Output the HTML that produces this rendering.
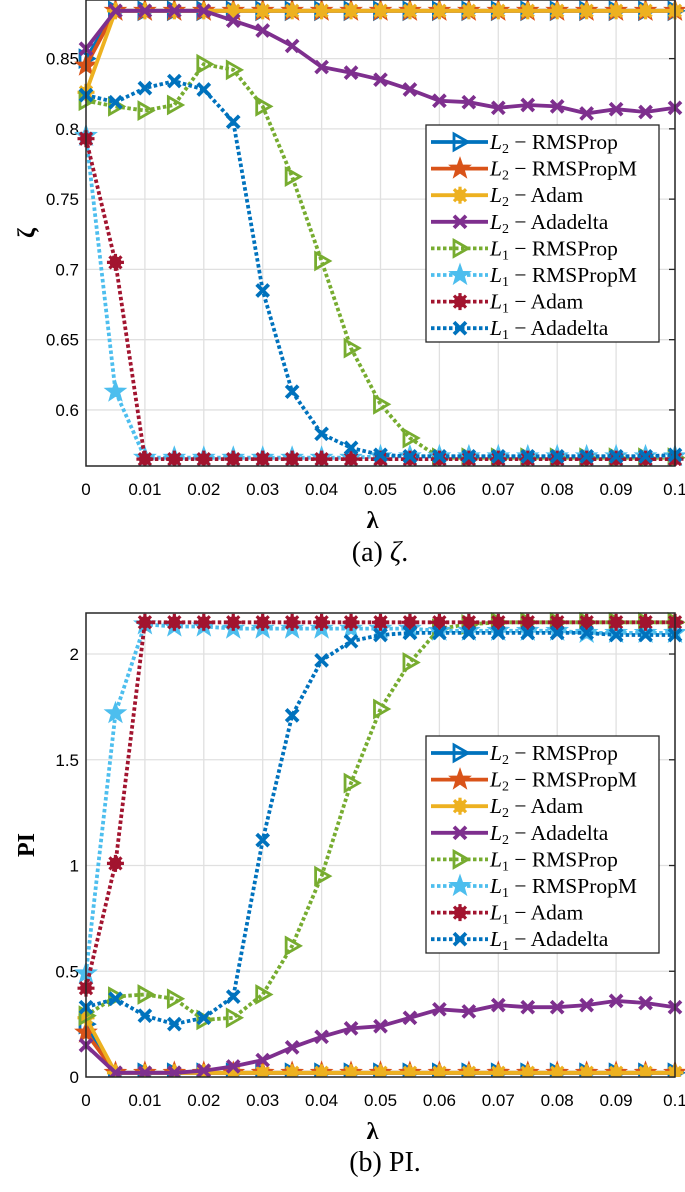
<!DOCTYPE html>
<html><head><meta charset="utf-8"><style>
body{margin:0;background:#fff;width:685px;height:1192px;overflow:hidden}
svg{display:block}
text{font-family:"Liberation Sans",sans-serif}
.serif{font-family:"Liberation Serif",serif}
</style></head><body>
<svg id="chart" width="685" height="1192" viewBox="0 0 685 1192"></svg>
<script>
const xVals=[0,0.005,0.01,0.015,0.02,0.025,0.03,0.035,0.04,0.045,0.05,0.055,0.06,0.065,0.07,0.075,0.08,0.085,0.09,0.095,0.1];
const xTicks=[0,0.01,0.02,0.03,0.04,0.05,0.06,0.07,0.08,0.09,0.1];
const xTickLabels=["0","0.01","0.02","0.03","0.04","0.05","0.06","0.07","0.08","0.09","0.1"];
const seriesNames=["L2RMSProp","L2RMSPropM","L2Adam","L2Adadelta","L1RMSProp","L1RMSPropM","L1Adam","L1Adadelta"];
// zeta
const zL2RMSProp=[0.850,0.884,0.884,0.884,0.884,0.884,0.884,0.884,0.884,0.884,0.884,0.884,0.884,0.884,0.884,0.884,0.884,0.884,0.884,0.884,0.884];
const zL2RMSPropM=[0.845,0.884,0.884,0.884,0.884,0.884,0.884,0.884,0.884,0.884,0.884,0.884,0.884,0.884,0.884,0.884,0.884,0.884,0.884,0.884,0.884];
const zL2Adam=[0.826,0.884,0.884,0.884,0.884,0.884,0.884,0.884,0.884,0.884,0.884,0.884,0.884,0.884,0.884,0.884,0.884,0.884,0.884,0.884,0.884];
const zL2Adadelta=[0.857,0.884,0.884,0.884,0.884,0.877,0.870,0.859,0.844,0.840,0.835,0.828,0.820,0.819,0.815,0.817,0.816,0.811,0.814,0.812,0.815];
const zL1RMSProp=[0.820,0.816,0.813,0.817,0.846,0.842,0.816,0.766,0.706,0.644,0.604,0.580,0.566,0.566,0.566,0.566,0.566,0.566,0.566,0.566,0.566];
const zL1RMSPropM=[0.795,0.613,0.566,0.566,0.566,0.566,0.566,0.566,0.566,0.566,0.567,0.567,0.567,0.567,0.567,0.567,0.567,0.567,0.567,0.567,0.567];
const zL1Adam=[0.793,0.705,0.565,0.565,0.565,0.565,0.565,0.565,0.565,0.565,0.565,0.565,0.565,0.565,0.565,0.565,0.565,0.565,0.565,0.565,0.565];
const zL1Adadelta=[0.824,0.819,0.829,0.834,0.828,0.805,0.685,0.613,0.583,0.573,0.568,0.567,0.567,0.567,0.567,0.567,0.567,0.567,0.567,0.567,0.568];
const zTicks=[0.6,0.65,0.7,0.75,0.8,0.85];
const zTickLabels=["0.6","0.65","0.7","0.75","0.8","0.85"];
// PI
const pL2RMSProp=[0.25,0.02,0.02,0.02,0.02,0.02,0.02,0.02,0.02,0.02,0.02,0.02,0.02,0.02,0.02,0.02,0.02,0.02,0.02,0.02,0.02];
const pL2RMSPropM=[0.21,0.02,0.02,0.02,0.02,0.02,0.02,0.02,0.02,0.02,0.02,0.02,0.02,0.02,0.02,0.02,0.02,0.02,0.02,0.02,0.02];
const pL2Adam=[0.28,0.02,0.02,0.02,0.02,0.02,0.02,0.02,0.02,0.02,0.02,0.02,0.02,0.02,0.02,0.02,0.02,0.02,0.02,0.02,0.02];
const pL2Adadelta=[0.15,0.02,0.02,0.02,0.03,0.05,0.08,0.14,0.19,0.23,0.24,0.28,0.32,0.31,0.34,0.33,0.33,0.34,0.36,0.35,0.33];
const pL1RMSProp=[0.29,0.38,0.39,0.37,0.27,0.28,0.39,0.62,0.95,1.39,1.74,1.96,2.12,2.14,2.15,2.15,2.15,2.15,2.15,2.15,2.15];
const pL1RMSPropM=[0.49,1.72,2.14,2.13,2.13,2.12,2.12,2.12,2.12,2.12,2.12,2.12,2.11,2.11,2.11,2.11,2.11,2.10,2.10,2.10,2.10];
const pL1Adam=[0.42,1.01,2.15,2.15,2.15,2.15,2.15,2.15,2.15,2.15,2.15,2.15,2.15,2.15,2.15,2.15,2.15,2.15,2.15,2.15,2.15];
const pL1Adadelta=[0.33,0.37,0.29,0.25,0.28,0.38,1.12,1.71,1.97,2.06,2.09,2.10,2.10,2.10,2.10,2.10,2.10,2.10,2.09,2.09,2.09];
const pTicks=[0,0.5,1,1.5,2];
const pTickLabels=["0","0.5","1","1.5","2"];

const colors=["#0072BD","#D95319","#EDB120","#7E2F8E","#77AC30","#4DBEEE","#A2142F","#0072BD"];
const markers=["tri","star","ast","x","tri","star","ast","x"];
const dotted=[false,false,false,false,true,true,true,true];
const legendMain=["RMSProp","RMSPropM","Adam","Adadelta","RMSProp","RMSPropM","Adam","Adadelta"];
const legendSub=["2","2","2","2","1","1","1","1"];

const NS="http://www.w3.org/2000/svg";
const svg=document.getElementById('chart');
function mk(tag,attrs,parent){const e=document.createElementNS(NS,tag);for(const k in attrs)e.setAttribute(k,attrs[k]);(parent||svg).appendChild(e);return e;}

function marker(g,type,x,y,c){
  let e;
  if(type==="tri"){e=mk('path',{d:`M${x-6},${y-8}L${x+8},${y}L${x-6},${y+8}Z`,fill:'none',stroke:c,'stroke-width':2.8},g);}
  else if(type==="star"){let d="";for(let i=0;i<10;i++){const r=i%2?4.5:11;const a=-Math.PI/2+i*Math.PI/5;d+=(i?"L":"M")+(x+r*Math.cos(a)).toFixed(1)+","+(y+r*Math.sin(a)).toFixed(1);}e=mk('path',{d:d+"Z",fill:c,stroke:c,'stroke-width':1},g);}
  else if(type==="ast"){e=mk('g',{},g);mk('circle',{cx:x,cy:y,r:6,fill:c},e);for(let i=0;i<4;i++){const a=i*Math.PI/4;mk('line',{x1:x-8.5*Math.cos(a),y1:y-8.5*Math.sin(a),x2:x+8.5*Math.cos(a),y2:y+8.5*Math.sin(a),stroke:c,'stroke-width':3.2},e);}}
  else {e=mk('path',{d:`M${x-6},${y-6}L${x+6},${y+6}M${x-6},${y+6}L${x+6},${y-6}`,stroke:c,'stroke-width':3.8,fill:'none'},g);}
  
  
}

function plot(cfg){
  const {x0,x1,y0,y1,ymin,ymax,series,yTicks,yLabels,ylab,name,caption,capX,capY,legendY}=cfg;
  const sx=v=>x0+(v/0.1)*(x1-x0);
  const sy=v=>y1-(v-ymin)/(ymax-ymin)*(y1-y0);
  const g=mk('g',{});
  
  
  const clipId=name+'-clip';
  const cp=mk('clipPath',{id:clipId},g);mk('rect',{x:x0-12,y:y0-12,width:x1-x0+24,height:y1-y0+12},cp);
  xTicks.forEach((t,i)=>{mk('line',{x1:sx(t),x2:sx(t),y1:y0,y2:y1,stroke:'#e0e0e0','stroke-width':1.3},g);
    const tl=mk('text',{x:sx(t),y:y1+29,'font-size':17,'text-anchor':'middle',fill:'#000'},g);tl.textContent=xTickLabels[i];
    });
  yTicks.forEach((t,i)=>{mk('line',{x1:x0,x2:x1,y1:sy(t),y2:sy(t),stroke:'#e0e0e0','stroke-width':1.3},g);
    mk('line',{x1:x1-6,x2:x1,y1:sy(t),y2:sy(t),stroke:'#262626','stroke-width':1.3},g);
    const tl=mk('text',{x:x0-7,y:sy(t)+6,'font-size':17,'text-anchor':'end',fill:'#000'},g);tl.textContent=yLabels[i];
    });
  const sg=mk('g',{'clip-path':`url(#${clipId})`},g);
  series.forEach((vals,si)=>{
    const c=colors[si];
    const pts=vals.map((v,i)=>sx(xVals[i]).toFixed(1)+","+sy(v).toFixed(1)).join(" ");
    const pl=mk('polyline',{points:pts,fill:'none',stroke:c,'stroke-width':3.8,'stroke-dasharray':dotted[si]?'3.5,2.5':'none'},sg);
    
    
    vals.forEach((v,i)=>marker(sg,markers[si],sx(xVals[i]),sy(v),c));
  });
  const bx=mk('rect',{x:x0,y:y0,width:x1-x0,height:y1-y0,fill:'none',stroke:'#262626','stroke-width':1.5},g);
  
  const lx=426,lw=233,lh=217;
  const lg=mk('g',{},g);
  
  mk('rect',{x:lx,y:legendY,width:lw,height:lh,fill:'#fff',stroke:'#262626','stroke-width':1.3},lg);
  for(let i=0;i<8;i++){
    const ey=legendY+17+i*26.6;
    const eg=mk('g',{},lg);
    
    
    mk('line',{x1:lx+5,x2:lx+62,y1:ey,y2:ey,stroke:colors[i],'stroke-width':3.8,'stroke-dasharray':dotted[i]?'3.5,2.5':'none'},eg);
    marker(eg,markers[i],lx+34,ey,colors[i]);
    const t=mk('text',{x:lx+64,y:ey+7,'font-size':21.5,class:'serif',fill:'#000'},eg);
    t.innerHTML=`<tspan font-style="italic">L</tspan><tspan font-size="14" dy="4">${legendSub[i]}</tspan><tspan dy="-4"> − ${legendMain[i]}</tspan>`;
  }
  const xl=mk('text',{x:(x0+x1)/2-8,y:y1+62,'font-size':24,'font-weight':'bold',class:'serif','text-anchor':'middle'},g);
  xl.textContent='λ';
  const yl=mk('text',{x:0,y:0,'font-size':24,'font-weight':'bold',class:'serif','text-anchor':'middle',transform:`translate(34,${(y0+y1)/2}) rotate(-90)`},g);
  yl.textContent=ylab;
  const cap=mk('text',{x:capX,y:capY,'font-size':28,class:'serif','text-anchor':'middle'},g);
  cap.innerHTML=caption;
}
plot({x0:86,x1:675,y0:0,y1:466,ymin:0.5601,ymax:0.8917,series:[zL2RMSProp,zL2RMSPropM,zL2Adam,zL2Adadelta,zL1RMSProp,zL1RMSPropM,zL1Adam,zL1Adadelta],yTicks:zTicks,yLabels:zTickLabels,ylab:'ζ',name:'zeta-chart',caption:'(a) <tspan font-style="italic">ζ</tspan>.',capX:380,capY:561,legendY:125});
plot({x0:86,x1:675,y0:613,y1:1077,ymin:0,ymax:2.194,series:[pL2RMSProp,pL2RMSPropM,pL2Adam,pL2Adadelta,pL1RMSProp,pL1RMSPropM,pL1Adam,pL1Adadelta],yTicks:pTicks,yLabels:pTickLabels,ylab:'PI',name:'pi-chart',caption:'(b) PI.',capX:385,capY:1171,legendY:736});
</script>
</body></html>
